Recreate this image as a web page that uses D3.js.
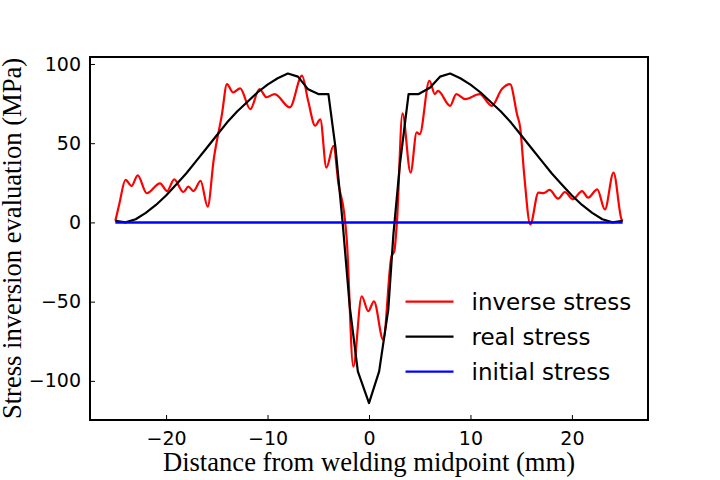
<!DOCTYPE html>
<html>
<head>
<meta charset="utf-8">
<script src="https://cdn.jsdelivr.net/npm/d3@7"></script>
<style>
  body { margin: 0; background: #fff; }
  .tick text { font-family: "DejaVu Sans", sans-serif; font-size: 19px; fill: #000; }
  .axis-label { font-family: "Liberation Serif", "Times New Roman", serif; font-size: 26.6px; fill: #000; }
  .legend text { font-family: "DejaVu Sans", sans-serif; font-size: 23px; fill: #000; }
</style>
</head>
<body>
<div class="canvas"></div>
<script>
// data (x in mm, stress in MPa)
const inverseX = [-25, -24.6, -24.0, -23.4, -22.8, -21.9, -20.6, -19.9, -19.2, -18.3, -17.8, -17.3, -16.6, -15.9, -15.3, -14.5, -14.0,
  -13.4, -12.7, -11.7, -10.8, -10.1, -9.3, -7.8, -6.6, -6.0, -5.3, -4.8, -4.2, -3.5, -3.0, -2.45, -2.2, -1.55, -0.72, -0.07, 0.49,
  1.4, 2.2, 2.5, 2.75, 3.3, 4.1, 4.7, 5.0, 5.95, 6.5, 6.8, 8.0, 8.6, 9.5, 10.9, 12.1, 13.1, 13.9, 14.6, 14.9, 15.3, 15.9, 16.7,
  17.2, 17.8, 18.65, 19.3, 20.1, 21.0, 21.6, 22.5, 23.25, 24.1, 24.9, 25];
const inverseY = [1, 12, 26.8, 23, 29.7, 18.4, 24.7, 19.8, 27.2, 19.2, 22.6, 19.8, 26.2, 9.9, 40, 68, 87.3,
  82, 84.6, 71.5, 84.2, 79, 81, 72.6, 92.6, 76.8, 61, 65, 34.6, 48.3, 24, 6, -10, -91, -46.6, -56, -49.8,
  -74, -22, -18, 0, 68.8, 31.4, 56.8, 55.7, 89.4, 81, 83, 73.6, 81, 77.8, 81, 73.6, 84.2, 87.3, 68, 60, 30, -1.3, 18.8,
  18.5, 20.5, 15, 19.2, 14.6, 19.8, 15.6, 20.9, 8.2, 31.4, 1.9, 1];

const realX = [-25, -24, -23, -22, -21, -20, -19, -18, -17, -16, -15, -14, -13, -12, -11, -10, -9, -8, -7, -6, -5, -4, -3.3, -2.6,
  -1.9, -1.1, 0, 1.0, 1.9, 2.4, 3.05, 3.9, 4.9, 6, 7, 8, 9, 10, 11, 12, 13, 14, 15, 16, 17, 18, 19, 20, 21, 22, 23, 24, 25];
const realY = [1, 0, 2, 6, 11, 17, 24, 31, 39, 47, 55, 63, 70, 76, 82, 87, 91, 94, 92, 84, 81, 81, 47, 0,
  -53, -94, -114, -94, -55, -8, 37, 81, 81, 85, 92, 94, 91, 87, 82, 76, 70, 63, 55, 47, 39, 31, 24, 17, 11, 6, 2, 0, 1];

const initialX = [-25, 25];
const initialY = [0, 0];

const seriesNames = ["inverse stress", "real stress", "initial stress"];
const seriesColors = ["#ff0000", "#000000", "#0000ff"];
const xTicks = [-20, -10, 0, 10, 20];
const yTicks = [-100, -50, 0, 50, 100];

// margins and dimensions
const w = 720;
const h = 480;
const margin = { top: 57, right: 72, bottom: 60, left: 90 };
const graphWidth = w - margin.left - margin.right;
const graphHeight = h - margin.top - margin.bottom;

const svg = d3.select(".canvas").append("svg").attr("width", w).attr("height", h);

const graph = svg.append("g").attr("transform", `translate(${margin.left}, ${margin.top})`);

const x = d3.scaleLinear().domain([-27.5, 27.5]).range([0, graphWidth]);
const y = d3.scaleLinear().domain([-124.7, 104.4]).range([graphHeight, 0]);

// axes, ticks pointing inward
const xAxis = d3.axisBottom(x).tickValues(xTicks).tickSizeInner(-5).tickSizeOuter(0).tickPadding(12)
  .tickFormat((d) => (d < 0 ? "\u2212" + Math.abs(d) : d));
const yAxis = d3.axisLeft(y).tickValues(yTicks).tickSizeInner(-5).tickSizeOuter(0).tickPadding(9)
  .tickFormat((d) => (d < 0 ? "\u2212" + Math.abs(d) : d));

const gx = graph.append("g").attr("transform", `translate(0, ${graphHeight})`).call(xAxis);
const gy = graph.append("g").call(yAxis);
[gx, gy].forEach((g) => {
  g.select(".domain").remove();
  g.selectAll(".tick line").attr("stroke", "#000").attr("stroke-width", 1);
});

// series
const series = [
  { xs: inverseX, ys: inverseY, curve: d3.curveMonotoneX, width: 2.2 },
  { xs: realX, ys: realY, curve: d3.curveLinear, width: 2.2 },
  { xs: initialX, ys: initialY, curve: d3.curveLinear, width: 2.5 },
];
series.forEach((s, i) => {
  const line = d3.line().x((d) => x(d[0])).y((d) => y(d[1])).curve(s.curve);
  graph.append("path")
    .datum(d3.zip(s.xs, s.ys))
    .attr("fill", "none")
    .attr("stroke", seriesColors[i])
    .attr("stroke-width", s.width)
    .attr("stroke-linejoin", "round")
    .attr("d", line);
});

// frame
graph.append("rect")
  .attr("width", graphWidth)
  .attr("height", graphHeight)
  .attr("fill", "none")
  .attr("stroke", "#000")
  .attr("stroke-width", 2);

// legend (no frame)
const legend = graph.append("g").attr("class", "legend").attr("transform", `translate(${x(3.6)}, ${y(-50)})`);
seriesNames.forEach((name, i) => {
  const row = legend.append("g").attr("transform", `translate(0, ${i * 35})`);
  row.append("line").attr("x1", 0).attr("x2", 48).attr("stroke", seriesColors[i]).attr("stroke-width", 2.2);
  row.append("text").attr("x", 66).attr("dy", "0.35em").text(name);
});

// axis labels
svg.append("text")
  .attr("class", "axis-label")
  .attr("x", margin.left + graphWidth / 2)
  .attr("y", 471)
  .attr("text-anchor", "middle")
  .text("Distance from welding midpoint (mm)");

svg.append("text")
  .attr("class", "axis-label")
  .attr("transform", `translate(21, ${margin.top + graphHeight / 2}) rotate(-90)`)
  .attr("text-anchor", "middle")
  .text("Stress inversion evaluation (MPa)");
</script>
</body>
</html>
